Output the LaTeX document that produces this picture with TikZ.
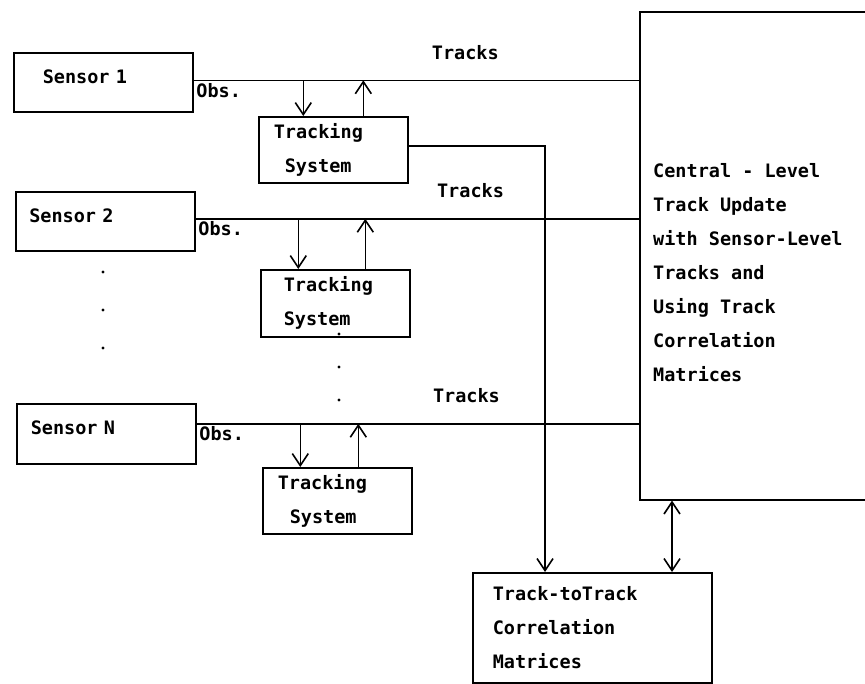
\documentclass[tikz,border=0pt]{standalone}
\usepackage{fontspec}
\setmonofont{DejaVu Sans Mono}
\usetikzlibrary{arrows.meta}
\tikzset{
  >={Straight Barb[length=12pt,width=16pt]},
  txt/.style={font=\ttfamily\bfseries\fontsize{18.5}{34}\selectfont},
  box/.style={draw,line width=1.6pt,inner sep=0pt,txt,align=left},
  sensor/.style={box,minimum width=179pt,minimum height=59pt,text height=13pt,text depth=11pt},
  tracker/.style={box,minimum width=149pt,minimum height=66pt,text width=119pt},
  link/.style={line width=1.6pt},
  flow/.style={->,line width=1.6pt},
  tag/.style={txt,inner sep=2pt}
}
\begin{document}
\begin{tikzpicture}[x=1pt,y=-1pt]
  \clip (0,0) rectangle (865,683);
  % sensor level
  \node[sensor,text width=121pt,anchor=north west] (s1) at (13,52) {Sensor 1};
  \node[sensor,text width=152pt,anchor=north west] (s2) at (15,191) {Sensor 2};
  \node[sensor,text width=151pt,minimum height=60pt,anchor=north west] (sn) at (16,403) {Sensor N};
  \node[tracker,anchor=north west] (tr1) at (258,116) {Tracking\\\hspace*{11pt}System};
  \node[tracker,text width=103pt,minimum height=67pt,anchor=north west] (tr2) at (260,269) {Tracking\\System};
  \node[tracker,anchor=north west] (tr3) at (262,467) {Tracking\\\hspace*{12pt}System};
  % central level
  \node[box,minimum width=300pt,minimum height=488pt,anchor=north west] (central) at (639,11) {};
  \node[txt,align=left,anchor=west,inner sep=0pt] (centraltext) at (653,273)
    {Central - Level\\Track Update\\with Sensor-Level\\Tracks and\\Using Track\\Correlation\\Matrices};
  \node[box,text width=199pt,minimum width=239pt,minimum height=110pt,anchor=north west] (ttt) at (472,572)
    {Track-toTrack\\Correlation\\Matrices};
  % track lines
  \coordinate (l1) at ([yshift=2pt]s1.east);
  \coordinate (l2) at ([yshift=2.5pt]s2.east);
  \coordinate (ln) at ([yshift=10pt]sn.east);
  \draw[link] (l1) -- (l1 -| central.west) node[tag,pos=.61,above=18pt] {Tracks}
    (l1) node[tag,anchor=north west] {Obs.};
  \draw[link] (l2) -- (l2 -| central.west) node[tag,pos=.62,above=18pt] {Tracks}
    (l2) node[tag,anchor=north west] {Obs.};
  \draw[link] (ln) -- (ln -| central.west) node[tag,pos=.61,above=18pt] {Tracks}
    (ln) node[tag,anchor=north west] {Obs.};
  % observations down, tracks up
  \draw[flow] ([xshift=-30pt]tr1.north |- l1) -- ([xshift=-30pt]tr1.north);
  \draw[flow] ([xshift=30pt]tr1.north) -- ([xshift=30pt]tr1.north |- l1);
  \draw[flow] ([xshift=-37pt]tr2.north |- l2) -- ([xshift=-37pt]tr2.north);
  \draw[flow] ([xshift=30pt]tr2.north) -- ([xshift=30pt]tr2.north |- l2);
  \draw[flow] ([xshift=-37pt]tr3.north |- ln) -- ([xshift=-37pt]tr3.north);
  \draw[flow] ([xshift=21pt]tr3.north) -- ([xshift=21pt]tr3.north |- ln);
  % to correlation matrices
  \draw[flow] ([yshift=4pt]tr1.east) -| ([xshift=73pt]ttt.north west);
  \draw[flow,<->] ([xshift=200pt]ttt.north west) -- ([xshift=200pt]ttt.north west |- central.south);
  % ellipses
  \foreach \y in {272,310,348} \fill (103,\y) circle (1.6);
  \foreach \y in {334,367,400} \fill (339,\y) circle (1.6);
\end{tikzpicture}
\end{document}
